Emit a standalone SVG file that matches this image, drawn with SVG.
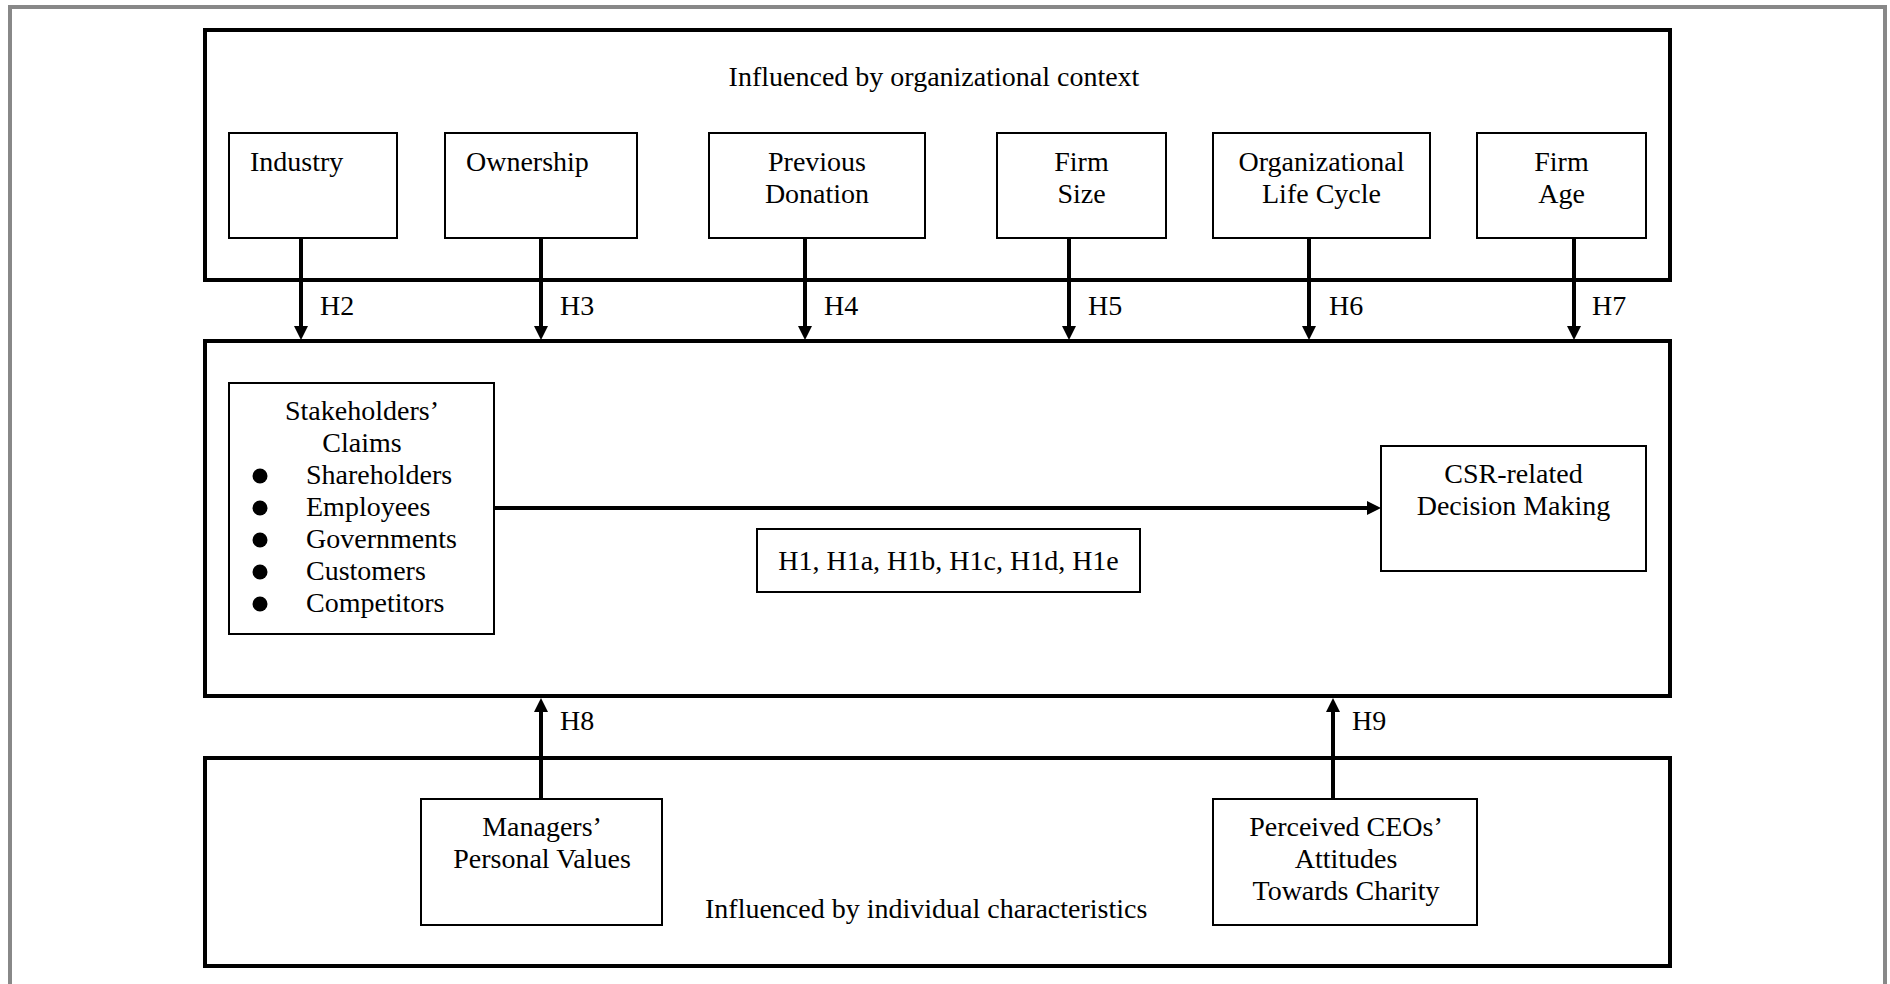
<svg xmlns="http://www.w3.org/2000/svg" width="1890" height="984" viewBox="0 0 1890 984">
  <style>
    text { font-family: "Liberation Serif", "Times New Roman", serif; font-size: 28px; fill: #000; }
    .mid { text-anchor: middle; }
    .frame { fill: none; stroke: #000; stroke-width: 4; }
    .box { fill: #fff; stroke: #000; stroke-width: 2; }
    .link { fill: none; stroke: #000; stroke-width: 4; marker-end: url(#head); }
  </style>
  <defs>
    <marker id="head" markerUnits="userSpaceOnUse" markerWidth="14" markerHeight="14" viewBox="0 0 14 14" refX="4" refY="7" orient="auto">
      <path d="M0,0 L14,7 L0,14 z" fill="#000"/>
    </marker>
  </defs>

  <rect x="0" y="0" width="1890" height="984" fill="#fff"/>
  <!-- page border -->
  <rect x="10" y="7" width="1875" height="1000" fill="none" stroke="#888" stroke-width="4"/>

  <!-- organizational context panel -->
  <g id="org-context">
    <rect class="frame" x="205" y="30" width="1465" height="250"/>
    <text class="mid" x="934" y="86">Influenced by organizational context</text>
  </g>
  <g id="industry">
    <rect class="box" x="229" y="133" width="168" height="105"/>
    <text x="250" y="171">Industry</text>
  </g>
  <g id="ownership">
    <rect class="box" x="445" y="133" width="192" height="105"/>
    <text x="466" y="171">Ownership</text>
  </g>
  <g id="previous-donation">
    <rect class="box" x="709" y="133" width="216" height="105"/>
    <text class="mid" x="817" y="171">Previous</text>
    <text class="mid" x="817" y="203">Donation</text>
  </g>
  <g id="firm-size">
    <rect class="box" x="997" y="133" width="169" height="105"/>
    <text class="mid" x="1081.5" y="171">Firm</text>
    <text class="mid" x="1081.5" y="203">Size</text>
  </g>
  <g id="life-cycle">
    <rect class="box" x="1213" y="133" width="217" height="105"/>
    <text class="mid" x="1321.5" y="171">Organizational</text>
    <text class="mid" x="1321.5" y="203">Life Cycle</text>
  </g>
  <g id="firm-age">
    <rect class="box" x="1477" y="133" width="169" height="105"/>
    <text class="mid" x="1561.5" y="171">Firm</text>
    <text class="mid" x="1561.5" y="203">Age</text>
  </g>

  <!-- decision panel -->
  <g id="decision-panel">
    <rect class="frame" x="205" y="341" width="1465" height="355"/>
  </g>
  <g id="stakeholders">
    <rect class="box" x="229" y="383" width="265" height="251"/>
    <text class="mid" x="362" y="420">Stakeholders’</text>
    <text class="mid" x="362" y="452">Claims</text>
    <circle cx="260" cy="476" r="7.5"/>
    <text x="306" y="484">Shareholders</text>
    <circle cx="260" cy="508" r="7.5"/>
    <text x="306" y="516">Employees</text>
    <circle cx="260" cy="540" r="7.5"/>
    <text x="306" y="548">Governments</text>
    <circle cx="260" cy="572" r="7.5"/>
    <text x="306" y="580">Customers</text>
    <circle cx="260" cy="604" r="7.5"/>
    <text x="306" y="612">Competitors</text>
  </g>
  <g id="h1-label">
    <rect class="box" x="757" y="529" width="383" height="63"/>
    <text class="mid" x="948.5" y="570">H1, H1a, H1b, H1c, H1d, H1e</text>
  </g>
  <g id="csr-decision">
    <rect class="box" x="1381" y="446" width="265" height="125"/>
    <text class="mid" x="1513.5" y="483">CSR-related</text>
    <text class="mid" x="1513.5" y="515">Decision Making</text>
  </g>

  <!-- individual characteristics panel -->
  <g id="individual-panel">
    <rect class="frame" x="205" y="758" width="1465" height="208"/>
    <text x="705" y="918">Influenced by individual characteristics</text>
  </g>
  <g id="personal-values">
    <rect class="box" x="421" y="799" width="241" height="126"/>
    <text class="mid" x="542" y="836">Managers’</text>
    <text class="mid" x="542" y="868">Personal Values</text>
  </g>
  <g id="ceo-attitudes">
    <rect class="box" x="1213" y="799" width="264" height="126"/>
    <text class="mid" x="1346" y="836">Perceived CEOs’</text>
    <text class="mid" x="1346" y="868">Attitudes</text>
    <text class="mid" x="1346" y="900">Towards Charity</text>
  </g>

  <!-- connectors -->
  <g id="connectors">
    <line class="link" x1="301" y1="238" x2="301" y2="330"/>
    <line class="link" x1="541" y1="238" x2="541" y2="330"/>
    <line class="link" x1="805" y1="238" x2="805" y2="330"/>
    <line class="link" x1="1069" y1="238" x2="1069" y2="330"/>
    <line class="link" x1="1309" y1="238" x2="1309" y2="330"/>
    <line class="link" x1="1574" y1="238" x2="1574" y2="330"/>
    <line class="link" x1="494" y1="508" x2="1371" y2="508"/>
    <line class="link" x1="541" y1="799" x2="541" y2="708"/>
    <line class="link" x1="1333" y1="799" x2="1333" y2="708"/>
    <text x="320" y="315">H2</text>
    <text x="560" y="315">H3</text>
    <text x="824" y="315">H4</text>
    <text x="1088" y="315">H5</text>
    <text x="1329" y="315">H6</text>
    <text x="1592" y="315">H7</text>
    <text x="560" y="730">H8</text>
    <text x="1352" y="730">H9</text>
  </g>
</svg>
